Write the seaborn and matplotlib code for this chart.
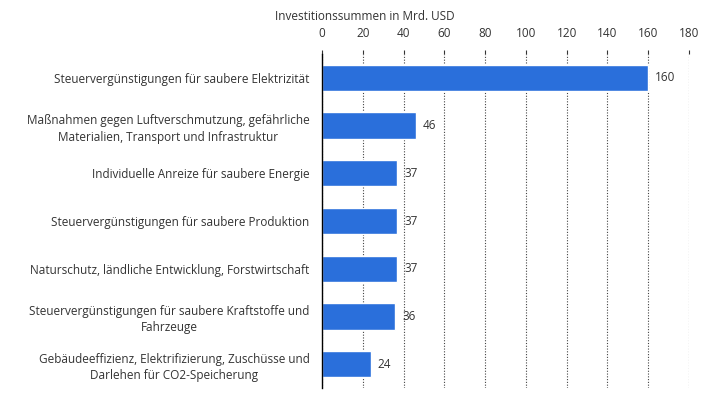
import matplotlib
matplotlib.use("Agg")
import pandas as pd
import matplotlib.pyplot as plt
import seaborn as sns

# Daten aus dem Diagramm
kategorien = [
    "Steuervergünstigungen für saubere Elektrizität",
    "Maßnahmen gegen Luftverschmutzung, gefährliche\nMaterialien, Transport und Infrastruktur",
    "Individuelle Anreize für saubere Energie",
    "Steuervergünstigungen für saubere Produktion",
    "Naturschutz, ländliche Entwicklung, Forstwirtschaft",
    "Steuervergünstigungen für saubere Kraftstoffe und\nFahrzeuge",
    "Gebäudeeffizienz, Elektrifizierung, Zuschüsse und\nDarlehen für CO2-Speicherung",
]
werte = [160, 46, 37, 37, 37, 36, 24]
x_ticks = [0, 20, 40, 60, 80, 100, 120, 140, 160, 180]

df = pd.DataFrame({"Kategorie": kategorien, "Wert": werte})

sns.set_style("white")
plt.rcParams["font.family"] = ["Open Sans", "DejaVu Sans"]

fig = plt.figure(figsize=(7.17, 4.03), dpi=100)
ax = fig.add_axes([0.449, 0.037, 0.512, 0.829])

sns.barplot(data=df, x="Wert", y="Kategorie", color="#2a6fdb", width=0.55,
            saturation=1, ax=ax)

ax.set_xlim(0, 180)
ax.set_xticks(x_ticks)
ax.xaxis.tick_top()
ax.tick_params(axis="x", length=3, color="#333333", labelsize=8.5,
               labelcolor="#333333", pad=7)
ax.tick_params(axis="y", length=0, labelsize=8.5, labelcolor="#333333", pad=9)
for lbl in ax.get_yticklabels():
    lbl.set_multialignment("center")
    lbl.set_linespacing(1.35)
ax.set_xlabel("")
ax.set_ylabel("")

# gepunktete Gitterlinien
ax.grid(axis="x", linestyle=(0, (1, 1.5)), color="#444444", linewidth=0.8)
ax.set_axisbelow(True)
for s in ["top", "right", "bottom"]:
    ax.spines[s].set_visible(False)
ax.spines["left"].set_color("black")
ax.spines["left"].set_linewidth(1.0)

for i, v in enumerate(werte):
    ax.annotate(str(v), (v, i), xytext=(5, 0), textcoords="offset points",
                va="center", ha="left", fontsize=8.5, color="#333333")

fig.text(275 / 717, 1 - 16 / 403, "Investitionssummen in Mrd. USD", ha="left",
         va="center", fontsize=8.5, color="#333333")

fig.savefig("out.png", dpi=100)
